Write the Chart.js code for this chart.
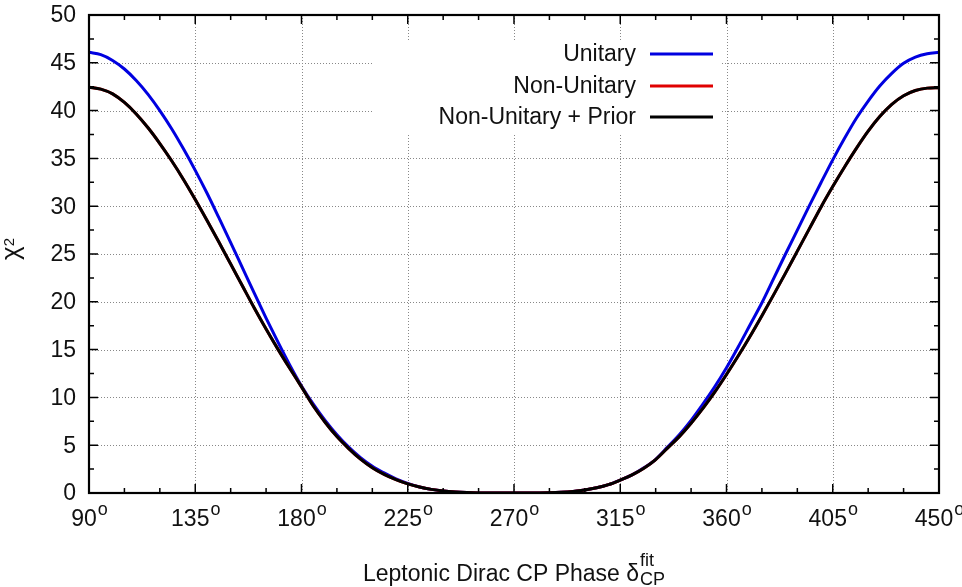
<!DOCTYPE html>
<html>
<head>
<meta charset="utf-8">
<script src="https://cdn.jsdelivr.net/npm/chart.js@4/dist/chart.umd.min.js"></script>
<style>
html,body{margin:0;padding:0;background:#fff;}
#wrap{width:962px;height:587px;position:relative;}
</style>
</head>
<body>
<div id="wrap"><canvas id="c" width="962" height="587"></canvas></div>
<script>
// ---- data ----
const deltaCP = [90,95,100,105,110,115,120,125,130,135,140,145,150,155,160,165,170,175,180,185,190,195,200,205,210,215,220,225,230,235,240,245,250,255,260,265,270,275,280,285,290,295,300,305,310,315,320,325,330,335,340,345,350,355,360,365,370,375,380,385,390,395,400,405,410,415,420,425,430,435,440,445,450];
const unitary = [46.1,45.85,45.25,44.35,43.15,41.7,40.0,38.1,36.0,33.75,31.35,28.8,26.2,23.55,20.9,18.3,15.8,13.4,11.2,9.3,7.6,6.1,4.8,3.7,2.8,2.1,1.47,1.0,0.63,0.38,0.21,0.1,0.04,0.01,0,0,0,0,0.01,0.03,0.08,0.17,0.32,0.54,0.87,1.35,1.89,2.63,3.53,4.8,6.1,7.6,9.3,11.1,13.1,15.3,17.6,19.9,22.45,25.0,27.5,30.0,32.45,34.85,37.1,39.2,41.0,42.6,43.9,44.95,45.6,45.95,46.1];
const nonUnitary = [42.45,42.25,41.75,40.85,39.65,38.2,36.55,34.75,32.8,30.7,28.5,26.25,23.95,21.65,19.35,17.15,15.05,13.05,11.1,9.1,7.4,5.9,4.65,3.55,2.65,1.95,1.4,0.95,0.62,0.38,0.21,0.1,0.04,0.01,0,0,0,0,0.01,0.03,0.08,0.17,0.32,0.54,0.87,1.35,1.9,2.6,3.5,4.7,5.9,7.3,8.85,10.55,12.4,14.35,16.4,18.55,20.75,23.0,25.3,27.6,29.9,32.05,34.1,36.05,37.85,39.4,40.65,41.55,42.1,42.35,42.4];
const nonUnitaryPrior = [42.45,42.25,41.75,40.85,39.65,38.2,36.55,34.75,32.8,30.7,28.5,26.25,23.95,21.65,19.35,17.15,15.05,13.05,11.1,9.1,7.4,5.9,4.65,3.55,2.65,1.95,1.4,0.95,0.62,0.38,0.21,0.1,0.04,0.01,0,0,0,0,0.01,0.03,0.08,0.17,0.32,0.54,0.87,1.35,1.9,2.6,3.5,4.7,5.9,7.3,8.85,10.55,12.4,14.35,16.4,18.55,20.75,23.0,25.3,27.6,29.9,32.05,34.1,36.05,37.85,39.4,40.65,41.55,42.1,42.35,42.4];
const seriesNames = ['Unitary','Non-Unitary','Non-Unitary + Prior'];
const xTicks = [90,135,180,225,270,315,360,405,450];
const xMinorTicks = [105,120,150,165,195,210,240,255,285,300,330,345,375,390,420,435];
const yTicks = [0,5,10,15,20,25,30,35,40,45,50];
const yMinorTicks = [2.5,7.5,12.5,17.5,22.5,27.5,32.5,37.5,42.5,47.5];
const xTitle = 'Leptonic Dirac CP Phase δ';
const xTitleSup = 'fit';
const xTitleSub = 'CP';
const yTitle = 'χ';
const yTitleSup = '2';

const FONT = '"Liberation Sans", Arial, sans-serif';
const colors = ['#0000e0','#e00000','#000000'];

function pts(arr){ return deltaCP.map((x,i)=>({x:x,y:arr[i]})); }

const decor = {
  id:'decor',
  beforeDatasetsDraw(chart){
    const ctx = chart.ctx, a = chart.chartArea, xs = chart.scales.x, ys = chart.scales.y;
    ctx.save();
    ctx.strokeStyle = '#888';
    ctx.lineWidth = 1;
    ctx.setLineDash([1,2]);
    xTicks.forEach(v=>{
      if (v===xTicks[0]||v===xTicks[xTicks.length-1]) return;
      const px = Math.round(xs.getPixelForValue(v))+0.5;
      ctx.beginPath(); ctx.moveTo(px,a.top); ctx.lineTo(px,a.bottom); ctx.stroke();
    });
    yTicks.forEach(v=>{
      if (v===yTicks[0]||v===yTicks[yTicks.length-1]) return;
      const py = Math.round(ys.getPixelForValue(v))+0.5;
      ctx.beginPath(); ctx.moveTo(a.left,py); ctx.lineTo(a.right,py); ctx.stroke();
    });
    ctx.setLineDash([]);
    // legend box (white, hides grid)
    ctx.fillStyle = '#fff';
    ctx.fillRect(372,40,350,94);
    ctx.font = '23px '+FONT;
    ctx.textAlign = 'right';
    ctx.textBaseline = 'middle';
    const ly = [54,86,117];
    seriesNames.forEach((n,i)=>{
      ctx.fillStyle = '#111';
      ctx.fillText(n,636,ly[i]+1);
      ctx.strokeStyle = colors[i];
      ctx.lineWidth = 3;
      ctx.beginPath(); ctx.moveTo(650,ly[i]); ctx.lineTo(713,ly[i]); ctx.stroke();
    });
    ctx.restore();
  },
  afterDraw(chart){
    const ctx = chart.ctx, a = chart.chartArea, xs = chart.scales.x, ys = chart.scales.y;
    ctx.save();
    ctx.strokeStyle = '#000';
    ctx.lineWidth = 1.5;
    // ticks
    xTicks.forEach(v=>{
      const px = xs.getPixelForValue(v);
      ctx.beginPath(); ctx.moveTo(px,a.bottom); ctx.lineTo(px,a.bottom-9);
      ctx.moveTo(px,a.top); ctx.lineTo(px,a.top+9); ctx.stroke();
    });
    xMinorTicks.forEach(v=>{
      const px = xs.getPixelForValue(v);
      ctx.beginPath(); ctx.moveTo(px,a.bottom); ctx.lineTo(px,a.bottom-5);
      ctx.moveTo(px,a.top); ctx.lineTo(px,a.top+5); ctx.stroke();
    });
    yTicks.forEach(v=>{
      const py = ys.getPixelForValue(v);
      ctx.beginPath(); ctx.moveTo(a.left,py); ctx.lineTo(a.left+9,py);
      ctx.moveTo(a.right,py); ctx.lineTo(a.right-9,py); ctx.stroke();
    });
    yMinorTicks.forEach(v=>{
      const py = ys.getPixelForValue(v);
      ctx.beginPath(); ctx.moveTo(a.left,py); ctx.lineTo(a.left+5,py);
      ctx.moveTo(a.right,py); ctx.lineTo(a.right-5,py); ctx.stroke();
    });
    // frame
    ctx.lineWidth = 2.2;
    ctx.strokeRect(a.left,a.top,a.right-a.left,a.bottom-a.top);
    // y tick labels
    ctx.fillStyle = '#111';
    ctx.font = '23px '+FONT;
    ctx.textAlign = 'right';
    ctx.textBaseline = 'middle';
    yTicks.forEach(v=>{
      ctx.fillText(String(v), 76, ys.getPixelForValue(v)+1);
    });
    // x tick labels with superscript degree
    ctx.textBaseline = 'alphabetic';
    ctx.textAlign = 'left';
    xTicks.forEach(v=>{
      const px = xs.getPixelForValue(v);
      ctx.font = '23px '+FONT;
      const w1 = ctx.measureText(String(v)).width;
      ctx.font = '18px '+FONT;
      const w2 = ctx.measureText('o').width;
      const x0 = px - (w1+w2)/2;
      ctx.font = '23px '+FONT;
      ctx.fillText(String(v), x0, 526);
      ctx.font = '18px '+FONT;
      ctx.fillText('o', x0+w1+1, 515);
    });
    // x title
    ctx.font = '23px '+FONT;
    const tw = ctx.measureText(xTitle).width;
    ctx.font = '18px '+FONT;
    const sw = Math.max(ctx.measureText(xTitleSup).width, ctx.measureText(xTitleSub).width);
    const cx = (a.left+a.right)/2;
    const tx = cx - (tw+sw+1)/2;
    ctx.font = '23px '+FONT;
    ctx.fillText(xTitle, tx, 581);
    ctx.font = '18px '+FONT;
    ctx.fillText(xTitleSup, tx+tw+1, 566);
    ctx.fillText(xTitleSub, tx+tw+1, 585);
    // y title (rotated)
    ctx.translate(19, (a.top+a.bottom)/2 - 5);
    ctx.rotate(-Math.PI/2);
    ctx.font = '26px '+FONT;
    const yw = ctx.measureText(yTitle).width;
    ctx.font = '15px '+FONT;
    const y2w = ctx.measureText(yTitleSup).width;
    const y0 = -(yw+y2w)/2;
    ctx.font = '26px '+FONT;
    ctx.fillText(yTitle, y0, 0);
    ctx.font = '15px '+FONT;
    ctx.fillText(yTitleSup, y0+yw, -5);
    ctx.restore();
  }
};

new Chart(document.getElementById('c'), {
  type:'line',
  data:{
    datasets:[
      {label:seriesNames[0], data:pts(unitary), borderColor:colors[0], borderWidth:3, pointRadius:0, cubicInterpolationMode:'monotone', order:2, fill:false},
      {label:seriesNames[1], data:pts(nonUnitary), borderColor:colors[1], borderWidth:3, pointRadius:0, cubicInterpolationMode:'monotone', order:1, fill:false},
      {label:seriesNames[2], data:pts(nonUnitaryPrior), borderColor:colors[2], borderWidth:3, pointRadius:0, cubicInterpolationMode:'monotone', order:0, fill:false}
    ]
  },
  options:{
    responsive:false,
    animation:false,
    layout:{padding:{left:89,top:15,right:23,bottom:94}},
    plugins:{legend:{display:false}, tooltip:{enabled:false}},
    scales:{
      x:{type:'linear', min:90, max:450, display:false},
      y:{type:'linear', min:0, max:50, display:false}
    }
  },
  plugins:[decor]
});
</script>
</body>
</html>
